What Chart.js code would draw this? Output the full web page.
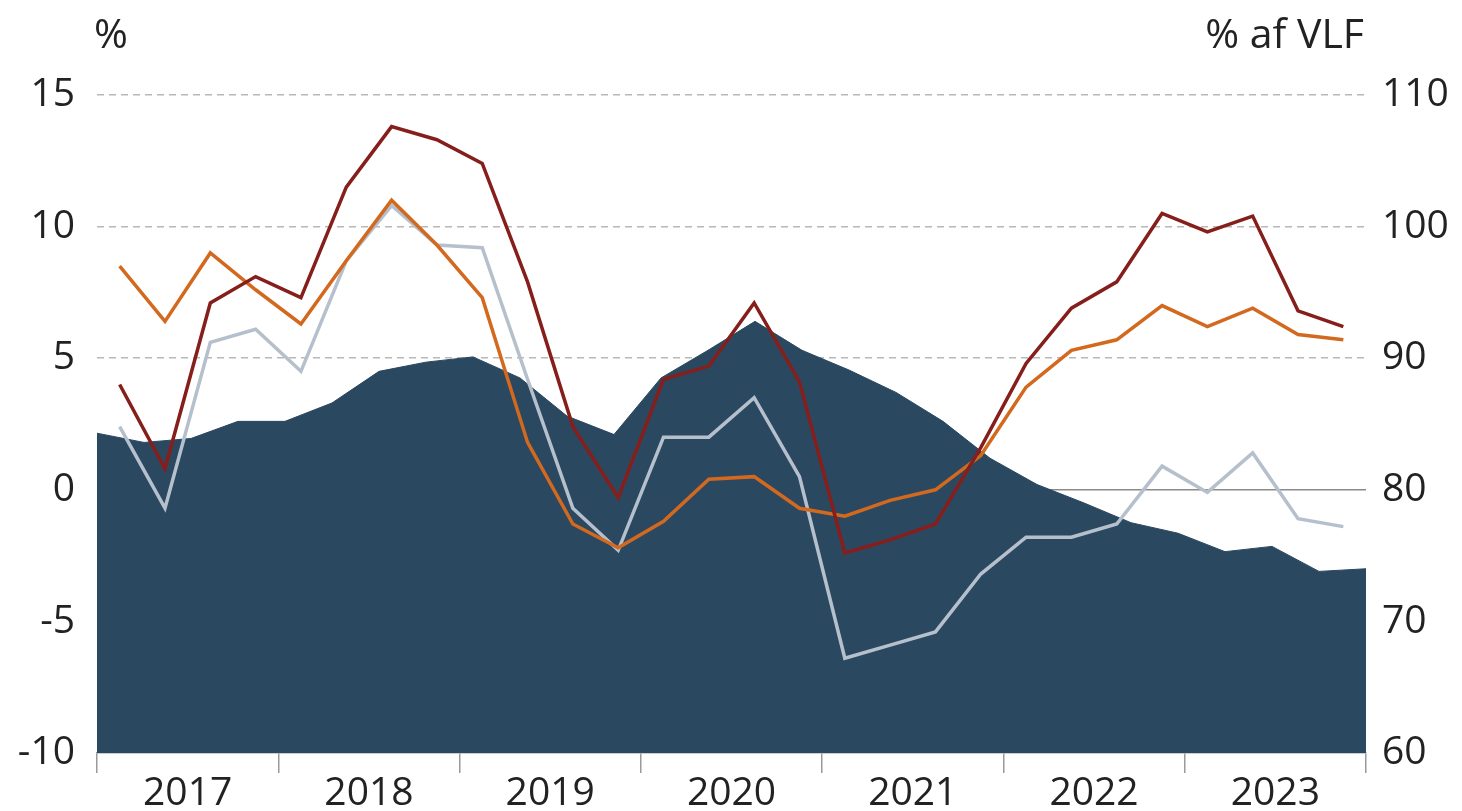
<html><head><meta charset="UTF-8">
<title>Chart</title>
<script src="https://cdn.jsdelivr.net/npm/chart.js"></script>
<style>
body { margin: 0; background: #fff; }
#wrap { width: 1462px; height: 811px; }
</style>
</head>
<body>
<div id="wrap"><canvas id="chart" width="1462" height="811"></canvas></div>
<script>
// Years on the axis, quarters for the series
const years = ['2017', '2018', '2019', '2020', '2021', '2022', '2023'];
const quarters = [];
years.forEach(y => { for (let q = 1; q <= 4; q++) quarters.push(y + 'K' + q); });

// Left axis (%) lines
const redLine = [4.0, 0.8, 7.1, 8.1, 7.3, 11.5, 13.8, 13.3, 12.4, 7.9, 2.4, -0.3,
  4.2, 4.7, 7.1, 4.1, -2.4, -1.9, -1.3, 1.6, 4.8, 6.9, 7.9, 10.5, 9.8, 10.4, 6.8, 6.2];
const orangeLine = [8.5, 6.4, 9.0, 7.6, 6.3, 8.7, 11.0, 9.3, 7.3, 1.8, -1.3, -2.2,
  -1.2, 0.4, 0.5, -0.7, -1.0, -0.4, 0.0, 1.3, 3.9, 5.3, 5.7, 7.0, 6.2, 6.9, 5.9, 5.7];
const greyLine = [2.4, -0.7, 5.6, 6.1, 4.5, 8.7, 10.8, 9.3, 9.2, 4.2, -0.7, -2.3,
  2.0, 2.0, 3.5, 0.5, -6.4, -5.9, -5.4, -3.2, -1.8, -1.8, -1.3, 0.9, -0.1, 1.4, -1.1, -1.4];

// Right axis (% af VLF) area
const areaValues = [84.3, 83.6, 83.9, 85.2, 85.2, 86.6, 89.0, 89.7, 90.1, 88.5, 85.6, 84.2,
  88.5, 90.6, 92.8, 90.6, 89.1, 87.4, 85.2, 82.4, 80.4, 79.0, 77.5, 76.7, 75.3, 75.7, 73.8, 74.0];

const fontFam = "'Open Sans', 'Noto Sans', sans-serif";
const textCol = '#222';
const tickSize = 39;

// axis titles and the zero line
const extras = {
  id: 'extras',
  beforeDatasetsDraw(chart) {
    const { ctx, chartArea, scales } = chart;
    const y0 = scales.y.getPixelForValue(0);
    ctx.save();
    ctx.strokeStyle = '#8a8a8a';
    ctx.lineWidth = 1.5;
    ctx.beginPath();
    ctx.moveTo(chartArea.left, y0);
    ctx.lineTo(chartArea.right, y0);
    ctx.stroke();
    ctx.restore();
  },
  afterDraw(chart) {
    const { ctx, chartArea } = chart;
    ctx.save();
    ctx.fillStyle = textCol;
    ctx.font = '41px ' + fontFam;
    ctx.textBaseline = 'alphabetic';
    ctx.textAlign = 'left';
    ctx.fillText('%', chartArea.left - 3, 48);
    ctx.textAlign = 'right';
    ctx.fillText('% af VLF', chartArea.right - 2, 48);
    ctx.restore();
  }
};

new Chart(document.getElementById('chart'), {
  type: 'line',
  data: {
    labels: quarters,
    datasets: [
      { label: 'red', data: redLine, borderColor: '#861f1c', borderWidth: 3.5, pointRadius: 0, order: 1, yAxisID: 'y', xAxisID: 'x' },
      { label: 'orange', data: orangeLine, borderColor: '#d2691f', borderWidth: 3.5, pointRadius: 0, order: 2, yAxisID: 'y', xAxisID: 'x' },
      { label: 'grey', data: greyLine, borderColor: '#b5c0cc', borderWidth: 3.5, pointRadius: 0, order: 3, yAxisID: 'y', xAxisID: 'x' },
      { label: 'area', data: areaValues, borderColor: '#2b4861', backgroundColor: '#2b4861', borderWidth: 1, pointRadius: 0, fill: 'start', order: 10, yAxisID: 'y2', xAxisID: 'x2' }
    ]
  },
  options: {
    responsive: false,
    animation: false,
    events: [],
    layout: { padding: { top: 95, right: 0, left: 0, bottom: 0 } },
    plugins: { legend: { display: false }, tooltip: { enabled: false } },
    elements: { line: { tension: 0 } },
    scales: {
      x: { type: 'category', offset: true, display: false },
      x2: { type: 'category', labels: quarters, offset: false, display: false },
      years: {
        type: 'category',
        labels: years,
        position: 'bottom',
        offset: true,
        grid: { offset: true, drawOnChartArea: false, drawTicks: true, tickLength: 20, color: '#9a9a9a', lineWidth: 1.5 },
        border: { display: true, color: '#9a9a9a', width: 1.5 },
        ticks: { color: textCol, font: { family: fontFam, size: tickSize }, padding: -3, maxRotation: 0 },
        afterFit(s) { s.height = 58; }
      },
      y: {
        position: 'left',
        min: -10, max: 15,
        ticks: { stepSize: 5, color: textCol, font: { family: fontFam, size: tickSize }, padding: 22 },
        grid: {
          drawTicks: false,
          lineWidth: 1.5,
          color: c => (c.tick && c.tick.value > 0) ? '#b8b8b8' : 'rgba(0,0,0,0)'
        },
        border: { display: false, dash: [7, 5] },
        afterFit(s) { s.width = 97; }
      },
      y2: {
        position: 'right',
        min: 60, max: 110,
        ticks: { stepSize: 10, color: textCol, font: { family: fontFam, size: tickSize }, padding: 16 },
        grid: { drawOnChartArea: false, drawTicks: false },
        border: { display: false },
        afterFit(s) { s.width = 96; }
      }
    }
  },
  plugins: [extras]
});
</script>
</body></html>
